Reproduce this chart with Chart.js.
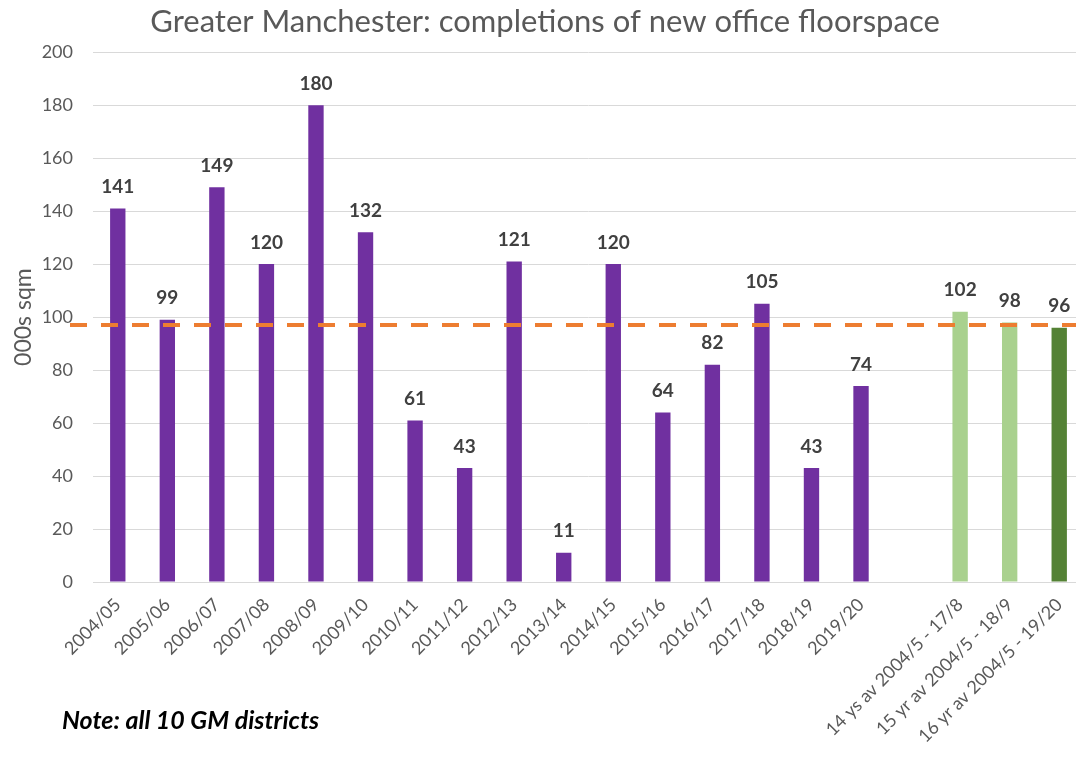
<!DOCTYPE html>
<html>
<head>
<meta charset="utf-8">
<script src="https://cdn.jsdelivr.net/npm/chart.js@4/dist/chart.umd.min.js"></script>
<style>
  html, body { margin: 0; padding: 0; background: #fff; overflow: hidden; }
  #wrap { position: relative; width: 1076px; height: 757px; overflow: hidden; }
  #chart { position: absolute; left: 0; top: 0; }
  #note {
    position: absolute; left: 62px; top: 704px;
    font: italic bold 25px Lato, sans-serif; color: #000;
  }
</style>
</head>
<body>
<div id="wrap">
  <!-- plot area runs slightly past the right edge, as in the original -->
  <canvas id="chart" width="1084" height="757"></canvas>
  <div id="note">Note: all 10 GM districts</div>
</div>
<script>
// chart data
const categories = [
  '2004/05', '2005/06', '2006/07', '2007/08', '2008/09', '2009/10', '2010/11', '2011/12',
  '2012/13', '2013/14', '2014/15', '2015/16', '2016/17', '2017/18', '2018/19', '2019/20',
  '', '14 ys av 2004/5 - 17/8', '15 yr av 2004/5 - 18/9', '16 yr av 2004/5 - 19/20',
];
const completions = [141, 99, 149, 120, 180, 132, 61, 43, 121, 11, 120, 64, 82, 105, 43, 74, null, 102, 98, 96];
const barKinds = ['y', 'y', 'y', 'y', 'y', 'y', 'y', 'y', 'y', 'y', 'y', 'y', 'y', 'y', 'y', 'y', '', 'a', 'a', 'c'];
const averageLine = 97;
const yTicks = [0, 20, 40, 60, 80, 100, 120, 140, 160, 180, 200];

const kindColor = { y: '#7030A0', a: '#A9D18E', c: '#548235', '': 'rgba(0,0,0,0)' };
const textGray = '#595959';
const FONT = 'Lato, sans-serif';

// dashed average line, starts a little left of the plot area like the original
const avgLinePlugin = {
  id: 'avgLine',
  afterDatasetsDraw(chart) {
    const { ctx, chartArea, scales } = chart;
    const y = scales.y.getPixelForValue(averageLine);
    ctx.save();
    ctx.strokeStyle = '#ED7D31';
    ctx.lineWidth = 4;
    ctx.setLineDash([17, 14]);
    ctx.beginPath();
    ctx.moveTo(chartArea.left - 23, y);
    ctx.lineTo(chartArea.right, y);
    ctx.stroke();
    ctx.restore();
  },
};

// value labels above each bar
const valueLabels = {
  id: 'valueLabels',
  afterDatasetsDraw(chart) {
    const { ctx } = chart;
    const meta = chart.getDatasetMeta(0);
    ctx.save();
    ctx.font = 'bold 19px ' + FONT;
    ctx.fillStyle = '#404040';
    ctx.textAlign = 'center';
    ctx.textBaseline = 'bottom';
    meta.data.forEach((bar, i) => {
      const v = completions[i];
      if (v == null) return;
      ctx.fillText(String(v), bar.x, bar.y - 12);
    });
    ctx.restore();
  },
};

new Chart(document.getElementById('chart'), {
  type: 'bar',
  data: {
    labels: categories,
    datasets: [{
      data: completions,
      backgroundColor: barKinds.map(k => kindColor[k]),
      categoryPercentage: 1,
      barPercentage: 0.31,
    }],
  },
  plugins: [avgLinePlugin, valueLabels],
  options: {
    responsive: false,
    animation: false,
    layout: { padding: { left: 6, right: 0, top: 3, bottom: 0 } },
    plugins: {
      legend: { display: false },
      tooltip: { enabled: false },
      title: {
        display: true,
        text: 'Greater Manchester: completions of new office floorspace',
        color: textGray,
        font: { family: FONT, size: 31, weight: 'normal' },
        padding: { top: 0, bottom: 12 },
      },
    },
    scales: {
      x: {
        grid: { display: false },
        border: { color: '#d9d9d9' },
        ticks: {
          color: textGray,
          font: { family: FONT, size: 18 },
          minRotation: 45, maxRotation: 45,
          autoSkip: false,
          padding: 4,
        },
        afterFit: s => { s.height = 175; },
      },
      y: {
        min: 0, max: 200,
        afterBuildTicks: s => { s.ticks = yTicks.map(v => ({ value: v })); },
        grid: { color: '#d9d9d9', drawTicks: false },
        border: { display: false },
        ticks: { color: textGray, font: { family: FONT, size: 18 }, padding: 20 },
        title: {
          display: true, text: '000s sqm', color: textGray,
          font: { family: FONT, size: 23 }, padding: { bottom: 6 },
        },
        afterFit: s => { s.width = 87; },
      },
    },
  },
});
</script>
</body>
</html>
